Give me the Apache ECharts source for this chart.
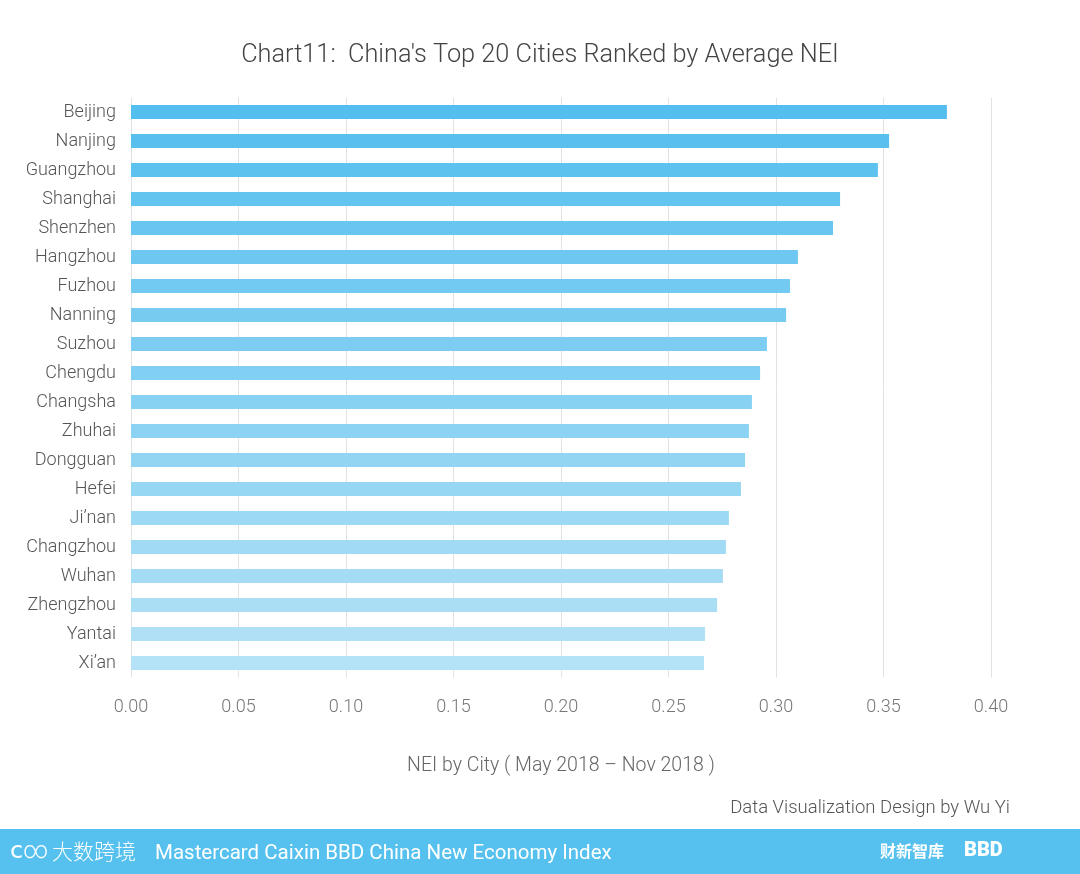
<!DOCTYPE html>
<html><head><meta charset="utf-8">
<script src="https://cdn.jsdelivr.net/npm/echarts@6/dist/echarts.min.js"></script>
<style>html,body{margin:0;padding:0;background:#fff}#c{width:1080px;height:874px}</style>
</head><body><div id="c"></div>
<script>
const cities = ["Beijing","Nanjing","Guangzhou","Shanghai","Shenzhen","Hangzhou","Fuzhou","Nanning","Suzhou","Chengdu","Changsha","Zhuhai","Dongguan","Hefei","Ji’nan","Changzhou","Wuhan","Zhengzhou","Yantai","Xi’an"];
const nei = [0.3795,0.3526,0.3474,0.3298,0.3265,0.3102,0.3065,0.3047,0.2958,0.2926,0.2888,0.2874,0.2856,0.2837,0.2781,0.2767,0.2753,0.2726,0.2670,0.2665];
const xTicks = ["0.00","0.05","0.10","0.15","0.20","0.25","0.30","0.35","0.40"];

const colTop = [84,190,238], colBot = [180,226,246];
function col(i){const t=i/(cities.length-1);return 'rgb('+colTop.map((v,k)=>Math.round(v+(colBot[k]-v)*t)).join(',')+')';}
const barData = nei.map((v,i)=>({value:v,itemStyle:{color:col(i)}}));
const font = 'Roboto';
const chart = echarts.init(document.getElementById('c'));
chart.setOption({
  animation:false,
  title:{text:"Chart11:  China's Top 20 Cities Ranked by Average NEI",left:'center',top:38,textStyle:{fontFamily:font,fontWeight:300,fontSize:25.3,color:'#444'}},
  grid:{left:131,right:89,top:97.5,bottom:196.5,containLabel:false},
  xAxis:{type:'value',min:0,max:0.4,interval:0.05,
    axisLine:{show:false},axisTick:{show:false},
    splitLine:{lineStyle:{color:'#e2e2e2',width:1}},
    axisLabel:{margin:21,fontFamily:font,fontWeight:300,fontSize:18,color:'#777',formatter:(v)=>xTicks[Math.round(v/0.05)]},
    name:'NEI by City ( May 2018 – Nov 2018 )',nameLocation:'middle',nameGap:79,
    nameTextStyle:{fontFamily:font,fontWeight:300,fontSize:19.5,color:'#666'}},
  yAxis:{type:'category',data:cities,inverse:true,
    axisLine:{show:false},axisTick:{show:false},
    axisLabel:{margin:15,padding:[4,0,0,0],fontFamily:font,fontWeight:300,fontSize:18,color:'#555'}},
  series:[{type:'bar',data:barData,barWidth:14}],
  graphic:[
    {type:'text',right:70,top:799,style:{text:'Data Visualization Design by Wu Yi',font:'300 18.5px Roboto',fill:'#555'}},
    {type:'rect',left:0,top:829,shape:{width:1080,height:45},style:{fill:'#56c1ee'}},
    {type:'text',left:10,top:840,style:{text:'ⅽ∞',font:'300 24px Roboto',fill:'#fff'}},
    {type:'text',left:52,top:841,style:{text:'大数跨境',font:'300 21px "Noto Sans CJK SC"',fill:'#fff'}},
    {type:'text',left:155,top:843,style:{text:'Mastercard Caixin BBD China New Economy Index',font:'400 20.5px Roboto',fill:'#fff'}},
    {type:'text',left:880,top:843,style:{text:'财新智库',font:'700 16px "Noto Sans CJK SC"',fill:'#fff'}},
    {type:'text',left:964,top:841,style:{text:'BBD',font:'900 20px Roboto',fill:'#fff'}}
  ]
});
</script></body></html>
